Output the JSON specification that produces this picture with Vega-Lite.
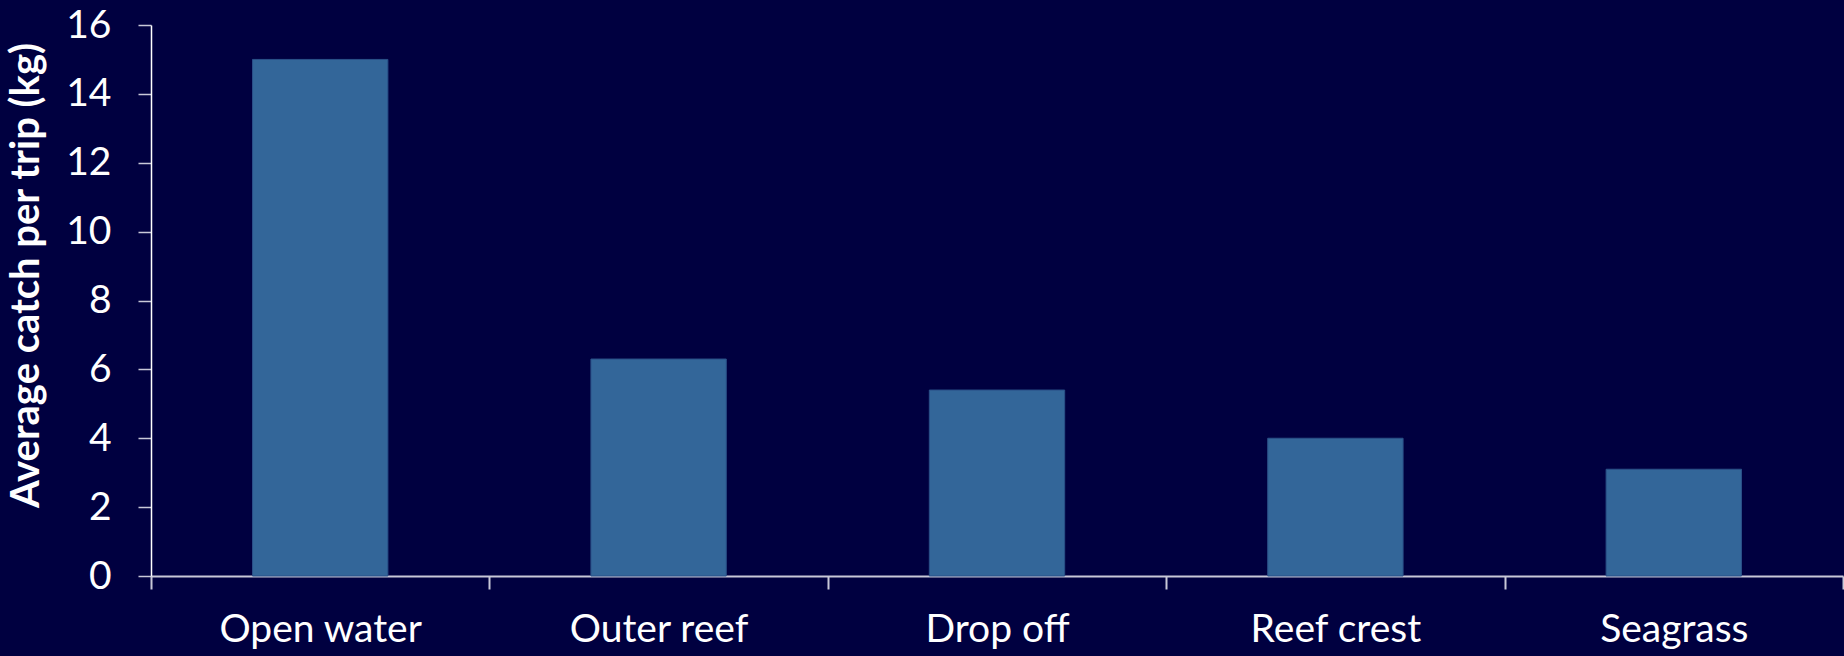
{
  "$schema": "https://vega.github.io/schema/vega-lite/v6.json",
  "width": 1692,
  "height": 551,
  "autosize": {"type": "none"},
  "padding": {"left": 151, "top": 25, "right": 1, "bottom": 80},
  "background": "#000040",
  "config": {"view": {"stroke": null}, "font": "Lato"},
  "data": {"values": [
    {"habitat": "Open water", "catch": 15.0},
    {"habitat": "Outer reef", "catch": 6.3},
    {"habitat": "Drop off", "catch": 5.4},
    {"habitat": "Reef crest", "catch": 4.0},
    {"habitat": "Seagrass", "catch": 3.1}
  ]},
  "mark": {"type": "bar", "color": "#336699", "stroke": "#2a5088", "strokeWidth": 1, "width": {"band": 0.4}},
  "encoding": {
    "x": {
      "field": "habitat", "type": "nominal", "sort": null,
      "scale": {"paddingInner": 0, "paddingOuter": 0},
      "axis": {
        "title": null, "labelAngle": 0, "labelColor": "#ffffff", "labelFontSize": 39,
        "labelLimit": 0, "labelPadding": 21, "tickBand": "extent", "tickSize": 13, "tickColor": "#c8c8d8",
        "domainColor": "#c8c8d8", "domainWidth": 2, "tickWidth": 2
      }
    },
    "y": {
      "field": "catch", "type": "quantitative",
      "scale": {"domain": [0, 16], "nice": false},
      "axis": {
        "title": "Average catch per trip (kg)", "titleColor": "#ffffff", "titleFontSize": 40,
        "titleFontWeight": "bold", "titleX": -125, "titleY": 250, "titleAngle": -90,
        "titleAlign": "center", "titleBaseline": "middle",
        "values": [0, 2, 4, 6, 8, 10, 12, 14, 16],
        "labelColor": "#ffffff", "labelFontSize": 39, "labelPadding": 27,
        "tickSize": 13, "tickColor": "#c8c8d8", "domainColor": "#ffffff",
        "grid": false, "domainWidth": 1.5, "tickWidth": 1.5
      }
    }
  }
}
